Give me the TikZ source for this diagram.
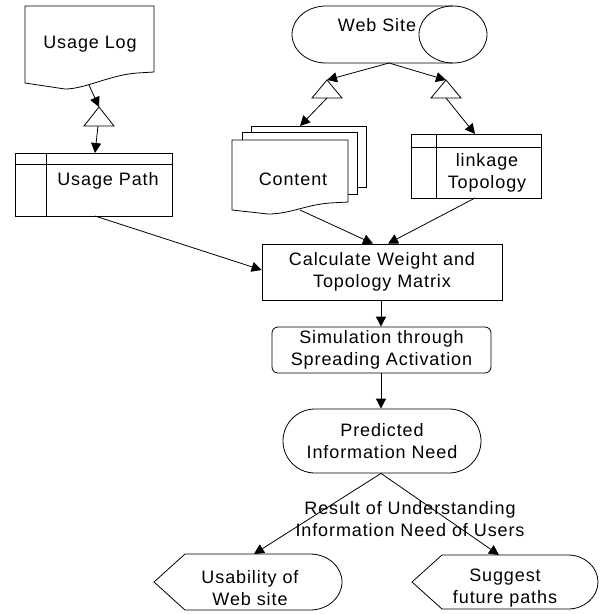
\documentclass[tikz,border=0pt]{standalone}
\usepackage{fontspec}
\setmainfont{Liberation Sans}[LetterSpace=5]
\usetikzlibrary{arrows.meta,shapes.misc}

\tikzset{
  ln/.style={line width=0.8pt},
  arr/.style={ln, -{Triangle[length=10pt,width=10pt]}},
  lbl/.style={font=\fontsize{18}{22}\selectfont, align=center, inner sep=0pt},
  shapebox/.style={draw, ln, lbl, fill=white},
}

\begin{document}
\begin{tikzpicture}[x=1pt,y=-1pt]
\useasboundingbox (0,0) rectangle (600,614);

% ---------- Usage Log (document) ----------
\draw[ln] (25,6) -- (154,6) -- (154,72) -- (137,73)
  .. controls (110,75) and (85,89) .. (65,89) -- (25,83) -- cycle;
\node[lbl] (log) at (90,44) {Usage Log};
\coordinate (logout) at (89,85);

% merge triangle under Usage Log
\draw[ln] (99,107) -- (114,126) -- (84,126) -- cycle;
\coordinate (t1top) at (99,107);
\coordinate (t1bot) at (98,126);

% ---------- Usage Path (stored data) ----------
\draw[ln] (15,153) rectangle (172,216);
\draw[ln] (15,164) -- (172,164);
\draw[ln] (46,153) -- (46,216);
\node[lbl] (path) at (108,181) {Usage Path};
\coordinate (pathin) at (95,153);
\coordinate (pathout) at (95,216);

% ---------- Web Site (direct access storage) ----------
\draw[ln] (453,6) -- (326,6)
  arc[start angle=270, end angle=90, x radius=34, y radius=28.5] -- (453,63);
\draw[ln] (453,34.5) ellipse[x radius=34, y radius=28.5];
\node[lbl] (web) at (377,25) {Web Site};
\coordinate (webout) at (389,63);

% merge triangles under Web Site
\draw[ln] (327,80) -- (342,98) -- (312,98) -- cycle;
\coordinate (t2top) at (327,80);
\coordinate (t2bot) at (327,98);
\draw[ln] (446,80) -- (461,98) -- (431,98) -- cycle;
\coordinate (t3top) at (446,80);
\coordinate (t3bot) at (446,98);

% ---------- Content (multiple documents) ----------
\draw[ln, fill=white] (251,126) rectangle (366,187);
\draw[ln, fill=white] (242,132) rectangle (357,194);
\draw[ln, fill=white] (232,140) -- (348,140) -- (348,202) -- (330,203)
  .. controls (305,205) and (290,214) .. (268,214) -- (232,210) -- cycle;
\node[lbl] (content) at (293,179) {Content};
\coordinate (contin) at (300,126);
\coordinate (contout) at (300,210);

% ---------- linkage Topology (stored data) ----------
\draw[ln] (411,134) rectangle (541,198);
\draw[ln] (411,147) -- (541,147);
\draw[ln] (436,134) -- (436,198);
\node[lbl] (link) at (487,173) {linkage\\Topology};
\coordinate (linkin) at (475,134);
\coordinate (linkout) at (475,198);

% ---------- process chain ----------
\node[shapebox, minimum width=240pt, minimum height=56pt] (calc) at (382,272)
  {Calculate Weight and\\Topology Matrix};
\node[shapebox, rounded corners=6pt, minimum width=219pt, minimum height=46pt] (sim) at (381.5,350)
  {Simulation through\\Spreading Activation};
\node[shapebox, rounded rectangle, minimum width=198pt, minimum height=64pt] (pred) at (382,441)
  {Predicted\\Information Need};

% ---------- outputs (display shapes) ----------
\draw[ln] (154,582) -- (185,554) -- (310,554)
  arc[start angle=-90, end angle=90, x radius=32, y radius=28] -- (185,610) -- cycle;
\node[lbl] (usab) at (250,588) {Usability of\\Web site};
\coordinate (usabin) at (254,554);

\draw[ln] (412,582) -- (442,555) -- (568,555)
  arc[start angle=-90, end angle=90, x radius=30, y radius=27] -- (442,609) -- cycle;
\node[lbl] (sugg) at (505,588) {Suggest\\future paths};
\coordinate (suggin) at (499,555);

\node[lbl] (result) at (410,519) {Result of Understanding\\Information Need of Users};

% ---------- connectors ----------
\draw[arr] (logout) -- (t1top);
\draw[arr] (t1bot) -- (pathin);
\draw[arr] (webout) -- (t2top);
\draw[arr] (webout) -- (t3top);
\draw[arr] (t2bot) -- (contin);
\draw[arr] (t3bot) -- (linkin);
\draw[arr] (pathout) -- (calc.west |- 0,270);
\draw[arr] (contout) -- (calc.north -| 373,0);
\draw[arr] (linkout) -- (calc.north -| 388,0);
\draw[arr] (calc.south -| 381,0) -- (sim.north -| 381,0);
\draw[arr] (sim.south -| 381,0) -- (pred.north -| 381,0);
\draw[arr] (pred.south -| 381,0) -- (usabin);
\draw[arr] (pred.south -| 381,0) -- (suggin);
\end{tikzpicture}
\end{document}
